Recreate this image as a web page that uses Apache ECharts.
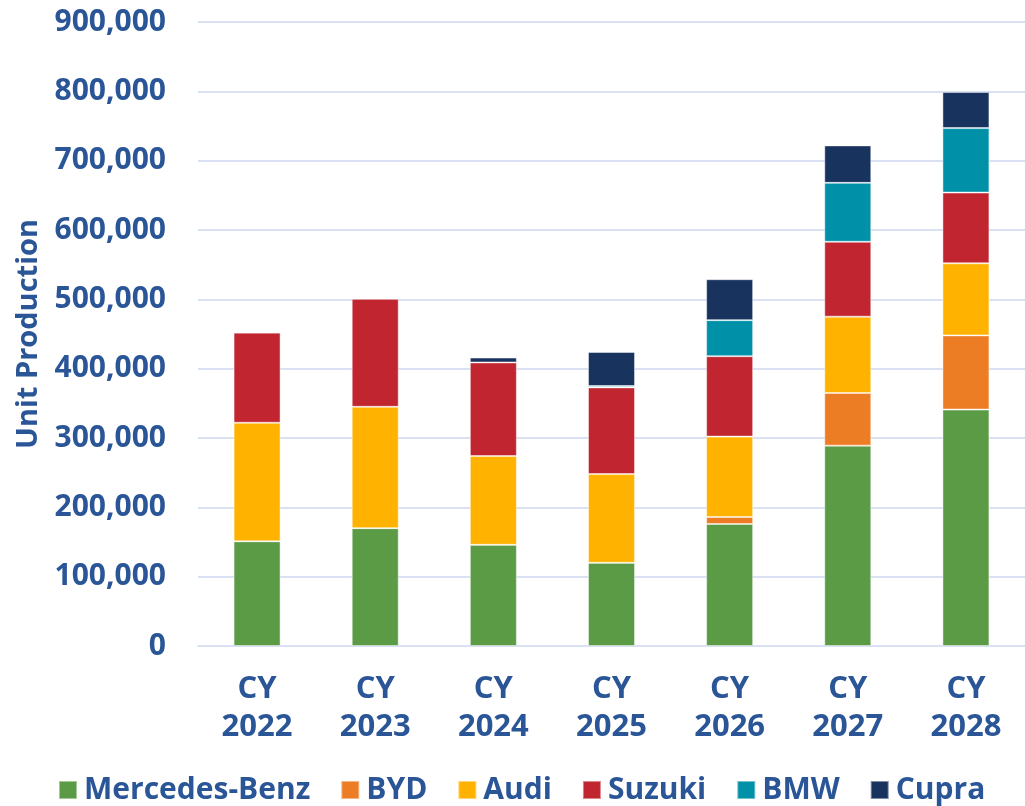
<!DOCTYPE html>
<html>
<head>
<meta charset="utf-8">
<script src="https://cdn.jsdelivr.net/npm/echarts@6/dist/echarts.min.js"></script>
<style>
  html, body { margin: 0; padding: 0; background: #fff; }
  #chart { width: 1025px; height: 806px; }
</style>
</head>
<body>
<div id="chart"></div>
<script>
const years = ['CY\n2022', 'CY\n2023', 'CY\n2024', 'CY\n2025', 'CY\n2026', 'CY\n2027', 'CY\n2028'];

const mercedes = [151000, 170000, 146000, 120000, 176000, 289000, 341000];
const byd      = [0, 0, 0, 0, 10000, 76000, 107000];
const audi     = [171000, 175000, 128000, 128000, 116000, 110000, 104000];
const suzuki   = [130000, 156000, 135000, 125000, 116000, 108000, 102000];
const bmw      = [0, 0, 0, 2000, 52000, 85000, 93000];
const cupra    = [0, 0, 7000, 49000, 59000, 54000, 52000];

const TEXT = '#2A5597';
const FONT = '"Open Sans", sans-serif';

const chart = echarts.init(document.getElementById('chart'));

function bar(name, data, color) {
  return {
    name: name,
    type: 'bar',
    stack: 'total',
    barWidth: 47,
    data: data,
    itemStyle: {
      color: color,
      borderColor: 'rgba(255,255,255,0.45)',
      borderWidth: 1
    }
  };
}

const option = {
  backgroundColor: '#fff',
  animation: false,
  textStyle: { fontFamily: FONT },
  grid: { left: 198, top: 22, width: 829, bottom: 160 },
  legend: {
    top: 770,
    left: 53,
    itemWidth: 18,
    itemHeight: 18,
    itemGap: 30,
    icon: 'rect',
    textStyle: { color: TEXT, fontSize: 30, fontWeight: 'bold', fontFamily: FONT, padding: [0, 0, 0, 2] },
    data: ['Mercedes-Benz', 'BYD', 'Audi', 'Suzuki', 'BMW', 'Cupra']
  },
  xAxis: {
    type: 'category',
    data: years,
    axisLine: { lineStyle: { color: '#D9E1F2', width: 2 } },
    axisTick: { show: false },
    axisLabel: {
      color: TEXT,
      fontSize: 31,
      fontWeight: 'bold',
      lineHeight: 38,
      margin: 24,
      fontFamily: FONT
    }
  },
  yAxis: {
    type: 'value',
    min: 0,
    max: 900000,
    interval: 100000,
    name: 'Unit Production',
    nameLocation: 'middle',
    nameGap: 154,
    nameTextStyle: { color: TEXT, fontSize: 29, fontWeight: 'bold', fontFamily: FONT },
    axisLine: { show: false },
    axisTick: { show: false },
    splitLine: { lineStyle: { color: '#D9E1F2', width: 2 } },
    axisLabel: {
      color: TEXT,
      fontSize: 30,
      fontWeight: 'bold',
      margin: 32,
      fontFamily: FONT,
      formatter: v => v.toLocaleString('en-US')
    }
  },
  series: [
    bar('Mercedes-Benz', mercedes, '#5B9B45'),
    bar('BYD', byd, '#ED7D24'),
    bar('Audi', audi, '#FFB300'),
    bar('Suzuki', suzuki, '#C12530'),
    bar('BMW', bmw, '#0091A8'),
    bar('Cupra', cupra, '#17335E')
  ]
};

chart.setOption(option);
</script>
</body>
</html>
